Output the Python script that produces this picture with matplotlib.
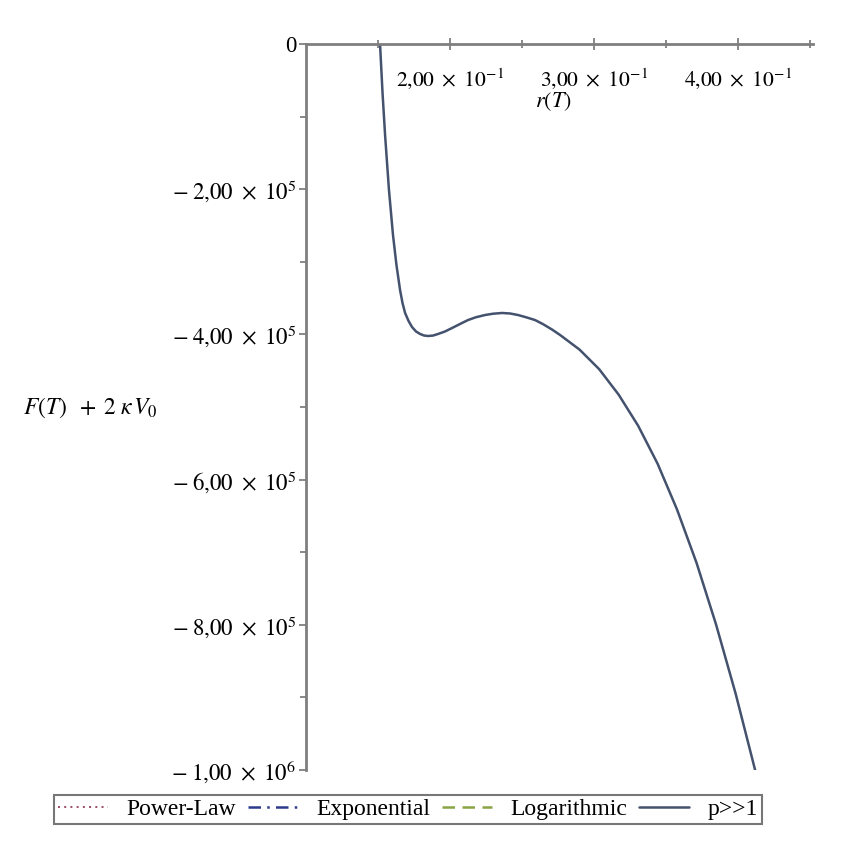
import numpy as np
import matplotlib
matplotlib.use("Agg")
import matplotlib.pyplot as plt
from matplotlib.ticker import FixedLocator, FuncFormatter

plt.rcParams['font.family'] = ['Liberation Serif', 'DejaVu Serif']
plt.rcParams['mathtext.fontset'] = 'stix'

# ---- data ----
r_vals = [0.1514, 0.1531, 0.1549, 0.1576, 0.1604, 0.1628, 0.1653, 0.1670,
          0.1688, 0.1712, 0.1736, 0.1764, 0.1792, 0.1819, 0.1847, 0.1882,
          0.1917, 0.1965, 0.2014, 0.2069, 0.2125, 0.2181, 0.2243, 0.2299,
          0.2361, 0.2417, 0.2472, 0.2528, 0.2590, 0.2646, 0.2708, 0.2764,
          0.2899, 0.3035, 0.3170, 0.3306, 0.3441, 0.3576, 0.3712, 0.3847,
          0.3983, 0.4118]
F_vals = [0.0, -6.61e4, -1.253e5, -2.011e5, -2.631e5, -3.044e5, -3.388e5, -3.567e5,
          -3.705e5, -3.815e5, -3.898e5, -3.960e5, -3.994e5, -4.015e5, -4.022e5, -4.016e5,
          -3.994e5, -3.960e5, -3.912e5, -3.857e5, -3.802e5, -3.763e5, -3.733e5, -3.715e5,
          -3.705e5, -3.712e5, -3.733e5, -3.764e5, -3.802e5, -3.859e5, -3.933e5, -4.008e5,
          -4.209e5, -4.478e5, -4.828e5, -5.258e5, -5.781e5, -6.412e5, -7.150e5, -7.996e5,
          -8.949e5, -1.0e6]

series_labels = ["Power-Law", "Exponential", "Logarithmic", "p>>1"]
x_major = [0.2, 0.3, 0.4]
x_minor = [0.15, 0.25, 0.35, 0.45]
y_major = [0, -2e5, -4e5, -6e5, -8e5, -1e6]
y_minor = [-1e5, -3e5, -5e5, -7e5, -9e5]
x_limits = (0.1, 0.452)
y_limits = (-1e6, 0)

axis_col = '#7f7f7f'

fig = plt.figure(figsize=(8.59, 8.59), dpi=100)
ax = fig.add_axes([306/859, 1-770/859, (813-306)/859, (770-44)/859])

# legend-only series (hidden under the p>>1 curve in the reference)
ax.plot([], [], linestyle=(0, (1, 2.2)), color='#9a4a6a', lw=1.4, label=series_labels[0])
ax.plot([], [], linestyle=(0, (5, 2.5, 1, 2.5)), color='#2d3a8c', lw=1.8, label=series_labels[1])
ax.plot([], [], linestyle=(0, (5, 3)), color='#8aa444', lw=1.8, label=series_labels[2])
ax.plot(r_vals, F_vals, color='#44526e', lw=1.8, solid_capstyle='round',
        solid_joinstyle='round', label=series_labels[3])

ax.set_xlim(*x_limits)
ax.set_ylim(*y_limits)

for s in ['bottom', 'right']:
    ax.spines[s].set_visible(False)
for s in ['left', 'top']:
    ax.spines[s].set_color(axis_col)
    ax.spines[s].set_linewidth(2.0)

def fmt_sci(v, pos=None):
    if v == 0:
        return "0"
    sign = v < 0
    a = abs(v)
    e = int(np.floor(np.log10(a) + 1e-9))
    m = a / 10**e
    ms = f"{m:.2f}".replace('.', '{,}')
    s = rf"{ms}\ \times\ 10^{{{e}}}"
    if sign:
        s = r"-\;" + s
    return "$" + s + "$"

ax.xaxis.set_major_locator(FixedLocator(x_major))
ax.xaxis.set_minor_locator(FixedLocator(x_minor))
ax.yaxis.set_major_locator(FixedLocator(y_major))
ax.yaxis.set_minor_locator(FixedLocator(y_minor))
ax.xaxis.set_major_formatter(FuncFormatter(fmt_sci))
ax.yaxis.set_major_formatter(FuncFormatter(fmt_sci))

ax.tick_params(axis='x', which='both', top=True, bottom=False, labeltop=True,
               labelbottom=False, direction='inout', color=axis_col, width=1.3)
ax.tick_params(axis='x', which='major', length=8, pad=-38, labelsize=15.5)
ax.tick_params(axis='x', which='minor', length=6)
ax.tick_params(axis='y', which='both', left=True, right=False, direction='out',
               color=axis_col, width=1.3)
ax.tick_params(axis='y', which='major', length=5, pad=2, labelsize=16.5)
ax.tick_params(axis='y', which='minor', length=4)

ax.text(0.487, 1 - 58/726, r"$r(T)$", transform=ax.transAxes,
        ha='center', va='center', fontsize=16)
ax.set_ylabel(r"$F(T)\;\;+\;2\;\kappa\,V_0$", rotation=0, fontsize=17,
              ha='center', va='center')
ax.yaxis.set_label_coords((90-306)/507, 1 - (408-44)/726)

leg = fig.legend(loc='center', bbox_to_anchor=(408/859, 1-809.5/859), ncol=4,
                 fancybox=False, frameon=True, fontsize=17, handlelength=2.1,
                 handletextpad=0.8, columnspacing=0.5, borderpad=0.15,
                 borderaxespad=0)
leg.get_frame().set_edgecolor('#555555')
leg.get_frame().set_linewidth(1.5)

fig.savefig("out.png", dpi=100)
